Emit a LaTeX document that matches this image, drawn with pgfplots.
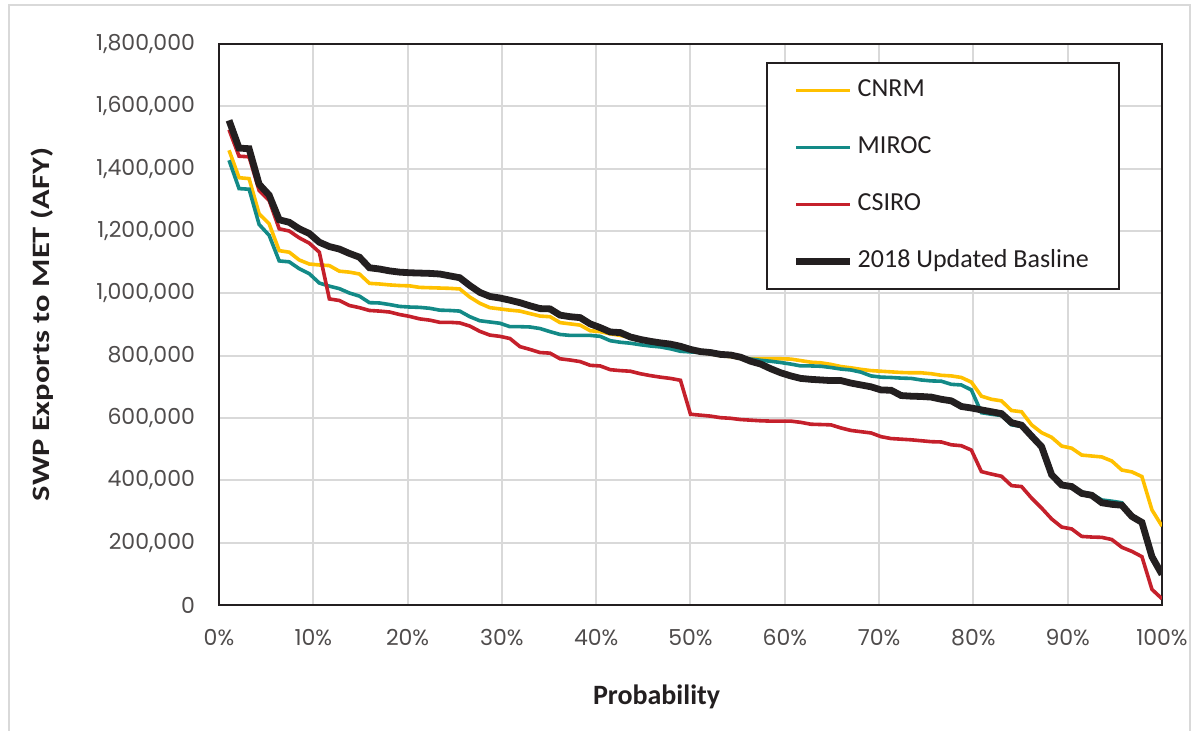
\documentclass[border=0pt]{standalone}
\usepackage{fontspec}
\usepackage{pgfplots}
\usepackage{pgfplotstable}
\pgfplotsset{compat=1.18}
\setmainfont{Carlito}
\newfontfamily\tickfont{Poppins}

\definecolor{cnrm}{HTML}{FFC000}
\definecolor{miroc}{HTML}{138A87}
\definecolor{csiro}{HTML}{C5202B}
\definecolor{base}{HTML}{231F20}
\definecolor{gridgray}{HTML}{D9D9D9}

% k = rank of 94 years, values in thousand AFY
\pgfplotstableread{
k cnrm miroc csiro base
1 1459 1427 1525 1555
2 1371 1336 1440 1466
3 1368 1334 1438 1464
4 1255 1221 1330 1350
5 1223 1186 1298 1315
6 1137 1104 1207 1236
7 1132 1101 1200 1228
8 1107 1079 1178 1207
9 1094 1063 1161 1192
10 1091 1033 1132 1164
11 1089 1023 982 1150
12 1071 1015 977 1142
13 1068 1001 961 1128
14 1062 991 954 1116
15 1032 970 945 1082
16 1030 969 943 1078
17 1027 964 940 1072
18 1025 958 932 1068
19 1024 956 926 1066
20 1019 955 918 1065
21 1018 952 914 1064
22 1017 946 907 1062
23 1016 945 907 1056
24 1014 943 905 1050
25 988 925 895 1025
26 968 912 878 1003
27 954 908 866 990
28 950 904 862 985
29 946 893 855 978
30 943 893 829 970
31 935 892 820 960
32 927 887 810 951
33 925 877 808 950
34 906 868 790 930
35 902 865 786 925
36 898 865 781 922
37 880 865 769 902
38 877 862 767 890
39 870 848 755 876
40 865 843 752 874
41 858 840 750 860
42 850 835 742 852
43 845 831 736 846
44 840 828 731 841
45 835 822 727 837
46 828 814 721 830
47 815 812 612 820
48 810 810 609 813
49 806 808 606 810
50 800 803 601 804
51 797 800 599 802
52 791 795 595 795
53 790 789 593 782
54 790 785 591 773
55 790 782 590 758
56 790 778 590 745
57 789 773 590 735
58 784 767 586 727
59 779 767 580 724
60 777 766 579 722
61 772 762 578 720
62 765 757 568 720
63 761 754 560 712
64 756 747 556 706
65 752 735 552 700
66 750 731 540 690
67 748 730 534 689
68 746 728 532 672
69 745 727 530 670
70 745 722 527 669
71 742 719 524 667
72 737 718 523 660
73 735 708 514 655
74 730 706 511 637
75 715 690 497 632
76 670 617 428 626
77 660 612 420 620
78 655 608 413 614
79 624 578 383 585
80 620 573 380 577
81 578 540 343 542
82 553 508 311 508
83 538 420 276 418
84 510 388 250 385
85 503 381 244 380
86 481 362 220 358
87 478 356 218 352
88 475 337 217 328
89 462 333 210 323
90 433 328 185 320
91 427 286 172 284
92 412 268 155 265
93 305 158 50 155
94 253 100 20 98
}\swp

\begin{document}
\begin{tikzpicture}
\useasboundingbox (-109.5pt,-63pt) rectangle (490pt,302.5pt);
\draw[gridgray, line width=1pt] (-105pt,-70pt) -- (-105pt,300pt) -- (485.5pt,300pt) -- (485.5pt,-70pt);
\begin{axis}[
    at={(0,0)}, anchor=south west,
    scale only axis,
    width=471.5pt, height=280.5pt,
    xmin=0, xmax=94,
    ymin=0, ymax=1800,
    xtick={0,9.4,18.8,28.2,37.6,47,56.4,65.8,75.2,84.6,94},
    xticklabels={0\%,10\%,20\%,30\%,40\%,50\%,60\%,70\%,80\%,90\%,100\%},
    ytick={0,200,400,600,800,1000,1200,1400,1600,1800},
    yticklabels={0,{200,000},{400,000},{600,000},{800,000},{1,000,000},{1,200,000},{1,400,000},{1,600,000},{1,800,000}},
    tick label style={font=\tickfont\fontsize{11}{13}\selectfont, text=base!80},
    yticklabel style={xshift=-8.5pt},
    xticklabel style={yshift=-8.5pt},
    major tick length=0pt,
    grid=major,
    major grid style={gridgray, line width=1pt},
    axis line style={base, line width=1pt},
    xlabel={\textbf{Probability}},
    ylabel={\textbf{SWP Exports to MET (AFY)}},
    label style={text=base},
    xlabel style={font=\fontsize{14}{16}\selectfont, at={(axis description cs:0.464,-0.164)}, anchor=center},
    ylabel style={font=\fontsize{12.5}{15}\selectfont, xscale=1.3, at={(axis description cs:-0.187,0.5)}, anchor=center},
    legend cell align=left,
    legend image code/.code={\draw[#1] (0pt,0pt) -- (27pt,0pt);},
    legend style={at={(rel axis cs:0.58,0.968)}, anchor=north west,
        draw=base, line width=1pt, font=\fontsize{13}{15}\selectfont,
        text=base, inner xsep=13pt, inner ysep=6.5pt, row sep=14pt,
        nodes={inner sep=2pt, text height=8.5pt, text depth=2pt}},
]
\addplot[cnrm, line width=1.8pt] table[x=k, y=cnrm] {\swp};
\addlegendentry{CNRM}
\addplot[miroc, line width=1.8pt] table[x=k, y=miroc] {\swp};
\addlegendentry{MIROC}
\addplot[csiro, line width=1.8pt] table[x=k, y=csiro] {\swp};
\addlegendentry{CSIRO}
\addplot[base, line width=3.4pt] table[x=k, y=base] {\swp};
\addlegendentry{2018 Updated Basline}
\end{axis}
\end{tikzpicture}
\end{document}
